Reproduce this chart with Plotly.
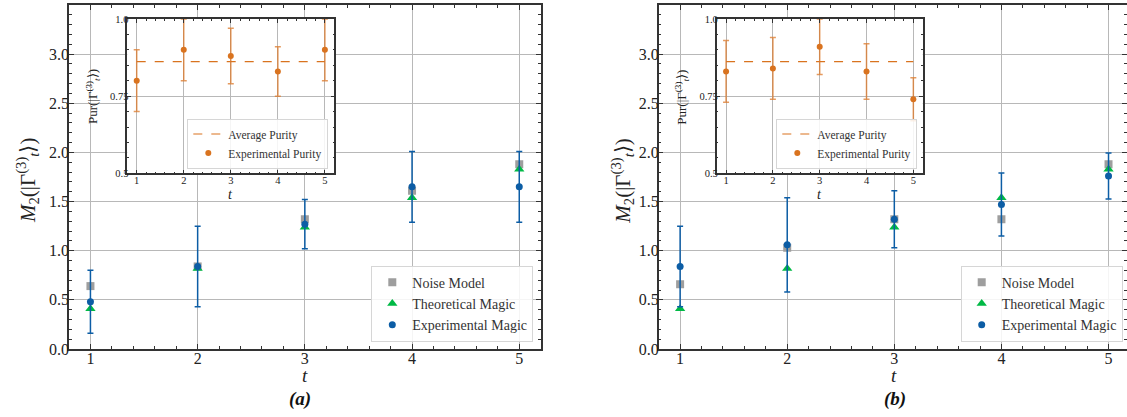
import plotly.graph_objects as go

# ---------------- data ----------------
t = [1, 2, 3, 4, 5]

# panel (a)
noise_a = [0.64, 0.84, 1.32, 1.61, 1.88]
theo_a = [0.41, 0.82, 1.24, 1.54, 1.83]
exp_a = [0.48, 0.84, 1.27, 1.65, 1.65]
exp_err_a = [0.32, 0.41, 0.25, 0.36, 0.36]
pur_a = [0.80, 0.90, 0.88, 0.83, 0.90]
pur_err_a = [0.10, 0.10, 0.09, 0.08, 0.10]
avg_pur_a = 0.862

# panel (b)
noise_b = [0.66, 1.03, 1.32, 1.32, 1.88]
theo_b = [0.41, 0.82, 1.24, 1.54, 1.83]
exp_b = [0.84, 1.06, 1.32, 1.47, 1.76]
exp_err_b = [0.41, 0.48, 0.29, 0.32, 0.235]
pur_b = [0.83, 0.84, 0.91, 0.83, 0.74]
pur_err_b = [0.10, 0.10, 0.09, 0.09, 0.07]
avg_pur_b = 0.862

main_yticks = [0.0, 0.5, 1.0, 1.5, 2.0, 2.5, 3.0]
inset_yticks = [0.5, 0.75, 1.0]
inset_yticklabels = ["0.5", "0.75", "1.0"]

# ---------------- style ----------------
FONT = "Liberation Serif"
BLUE = "#0C5DA5"
GREEN = "#00B945"
GRAY = "#9e9e9e"
ORANGE = "#D9731F"
ORANGE_ERR = "rgba(220,120,40,0.75)"
GRID = "#b8b8b8"
W, H = 1127, 417


def px_x(p):
    return p / W


def px_y(p):
    return 1 - p / H


fig = go.Figure()

panels = [
    dict(noise=noise_a, theo=theo_a, exp=exp_a, err=exp_err_a, pur=pur_a, perr=pur_err_a, avg=avg_pur_a,
         main_x=(69, 540.7), inset_x=(127.3, 334.3), xrange=[0.8, 5.2],
         leg_right=533.3, ileg_right=328.3, label="(a)", ylab_x=27, iylab_x=93, lab_x=299.5, t_x=305),
    dict(noise=noise_b, theo=theo_b, exp=exp_b, err=exp_err_b, pur=pur_b, perr=pur_err_b, avg=avg_pur_b,
         main_x=(658.7, 1127), inset_x=(716.7, 922.7), xrange=[0.8, 0.8 + (1127 - 658.7) / 107.1],
         leg_right=1122.7, ileg_right=917.3, label="(b)", ylab_x=621.7, iylab_x=681.7, lab_x=894.5, t_x=893.7),
]

layout_axes = {}
annotations = []
legends = {}

for i, p in enumerate(panels):
    main_idx = 2 * i + 1
    ins_idx = 2 * i + 2
    mx = "x" if main_idx == 1 else f"x{main_idx}"
    my = "y" if main_idx == 1 else f"y{main_idx}"
    ix = f"x{ins_idx}"
    iy = f"y{ins_idx}"
    leg_main = "legend" if i == 0 else "legend3"
    leg_ins = "legend2" if i == 0 else "legend4"

    fig.add_trace(go.Scatter(x=t, y=p["noise"], mode="markers", name="Noise Model",
                             marker=dict(symbol="square", size=8, color=GRAY),
                             xaxis=mx, yaxis=my, legend=leg_main))
    fig.add_trace(go.Scatter(x=t, y=p["theo"], mode="markers", name="Theoretical Magic",
                             marker=dict(symbol="triangle-up", size=9, color=GREEN),
                             xaxis=mx, yaxis=my, legend=leg_main))
    fig.add_trace(go.Scatter(x=t, y=p["exp"], mode="markers", name="Experimental Magic",
                             marker=dict(symbol="circle", size=7, color=BLUE),
                             error_y=dict(type="data", array=p["err"], color=BLUE, thickness=1.5, width=3),
                             xaxis=mx, yaxis=my, legend=leg_main))

    fig.add_trace(go.Scatter(x=[t[0], t[-1]], y=[p["avg"], p["avg"]], mode="lines", name="Average Purity",
                             line=dict(color=ORANGE, width=1.2, dash="dash"),
                             xaxis=ix, yaxis=iy, legend=leg_ins))
    fig.add_trace(go.Scatter(x=t, y=p["pur"], mode="markers", name="Experimental Purity",
                             marker=dict(symbol="circle", size=6, color=ORANGE),
                             error_y=dict(type="data", array=p["perr"], color=ORANGE_ERR, thickness=1.5, width=3),
                             xaxis=ix, yaxis=iy, legend=leg_ins))

    axcommon = dict(showline=True, linecolor="#333333", linewidth=1.5, mirror="allticks",
                    ticks="inside", tickcolor="#333333", showgrid=True, gridcolor=GRID, gridwidth=1,
                    zeroline=False, automargin=False)

    xkey = "xaxis" if main_idx == 1 else f"xaxis{main_idx}"
    ykey = "yaxis" if main_idx == 1 else f"yaxis{main_idx}"
    layout_axes[xkey] = dict(axcommon, domain=[px_x(p["main_x"][0]), min(1.0, px_x(p["main_x"][1]))],
                             range=p["xrange"], tickvals=t, ticklen=5, ticklabelstandoff=-6,
                             minor=dict(dtick=0.2, ticks="inside", ticklen=3, tickcolor="#333333", showgrid=False),
                             tickfont=dict(family=FONT, size=16, color="#222222"),
                             anchor=my)
    layout_axes[ykey] = dict(axcommon, domain=[px_y(349), px_y(5)], range=[0, 3.5],
                             tickvals=main_yticks, tickformat=".1f", ticklen=5, ticklabelstandoff=-5,
                             minor=dict(dtick=0.1, ticks="inside", ticklen=3, tickcolor="#333333", showgrid=False),
                             tickfont=dict(family=FONT, size=16, color="#222222"),
                             anchor=mx)
    layout_axes[f"xaxis{ins_idx}"] = dict(axcommon, domain=[px_x(p["inset_x"][0]), px_x(p["inset_x"][1])],
                                          range=[0.8, 5.2], tickvals=t, ticklen=4, ticklabelstandoff=-4,
                                          minor=dict(dtick=0.2, ticks="inside", ticklen=2, tickcolor="#333333",
                                                     showgrid=False),
                                          tickfont=dict(family=FONT, size=10.5, color="#222222"),
                                          anchor=iy)
    layout_axes[f"yaxis{ins_idx}"] = dict(axcommon, domain=[px_y(173.3), px_y(19)], range=[0.5, 1.0],
                                          tickvals=inset_yticks, ticktext=inset_yticklabels, ticklen=4,
                                          ticklabelstandoff=-5,
                                          minor=dict(dtick=0.05, ticks="inside", ticklen=2, tickcolor="#333333",
                                                     showgrid=False),
                                          tickfont=dict(family=FONT, size=10.5, color="#222222"),
                                          anchor=ix)

    legends[leg_main] = dict(x=px_x(p["leg_right"]), y=px_y(341.7), xanchor="right", yanchor="bottom",
                             bgcolor="rgba(255,255,255,0.85)", bordercolor="#d6d6d6", borderwidth=1,
                             font=dict(family=FONT, size=14, color="#333333"), tracegroupgap=0)
    legends[leg_ins] = dict(x=px_x(p["ileg_right"]), y=px_y(168.5), xanchor="right", yanchor="bottom",
                            bgcolor="rgba(255,255,255,0.85)", bordercolor="#d6d6d6", borderwidth=1,
                            font=dict(family=FONT, size=11.5, color="#333333"), tracegroupgap=0)

    annotations += [
        dict(text="<i>M</i><sub>2</sub>(|Γ<sup>(3)</sup><sub><i>t</i></sub>⟩)", textangle=-90,
             x=px_x(p["ylab_x"]), y=px_y(181)),
        dict(text="Pur(|Γ<sup>(3)</sup><sub><i>t</i></sub>⟩)", textangle=-90,
             x=px_x(p["iylab_x"]), y=px_y(97), font=dict(family=FONT, size=13, color="#222222")),
        dict(text="<i>t</i>", x=px_x(p["t_x"]), y=px_y(375), font=dict(family=FONT, size=19, color="#222222")),
        dict(text="<i>t</i>", x=px_x(sum(p["inset_x"]) / 2), y=px_y(194),
             font=dict(family=FONT, size=14, color="#222222")),
        dict(text="<b><i>" + p["label"] + "</i></b>", x=px_x(p["lab_x"]), y=px_y(399),
             font=dict(family=FONT, size=19, color="#111111")),
    ]

for a in annotations:
    a.setdefault("font", dict(family=FONT, size=21, color="#222222"))
    a.update(xref="paper", yref="paper", showarrow=False, xanchor="center", yanchor="middle")

fig.update_layout(
    width=W, height=H,
    margin=dict(l=0, r=0, t=0, b=0),
    paper_bgcolor="white", plot_bgcolor="white",
    showlegend=True,
    annotations=annotations,
    **layout_axes,
    **legends,
)

fig.write_html("out.html")
